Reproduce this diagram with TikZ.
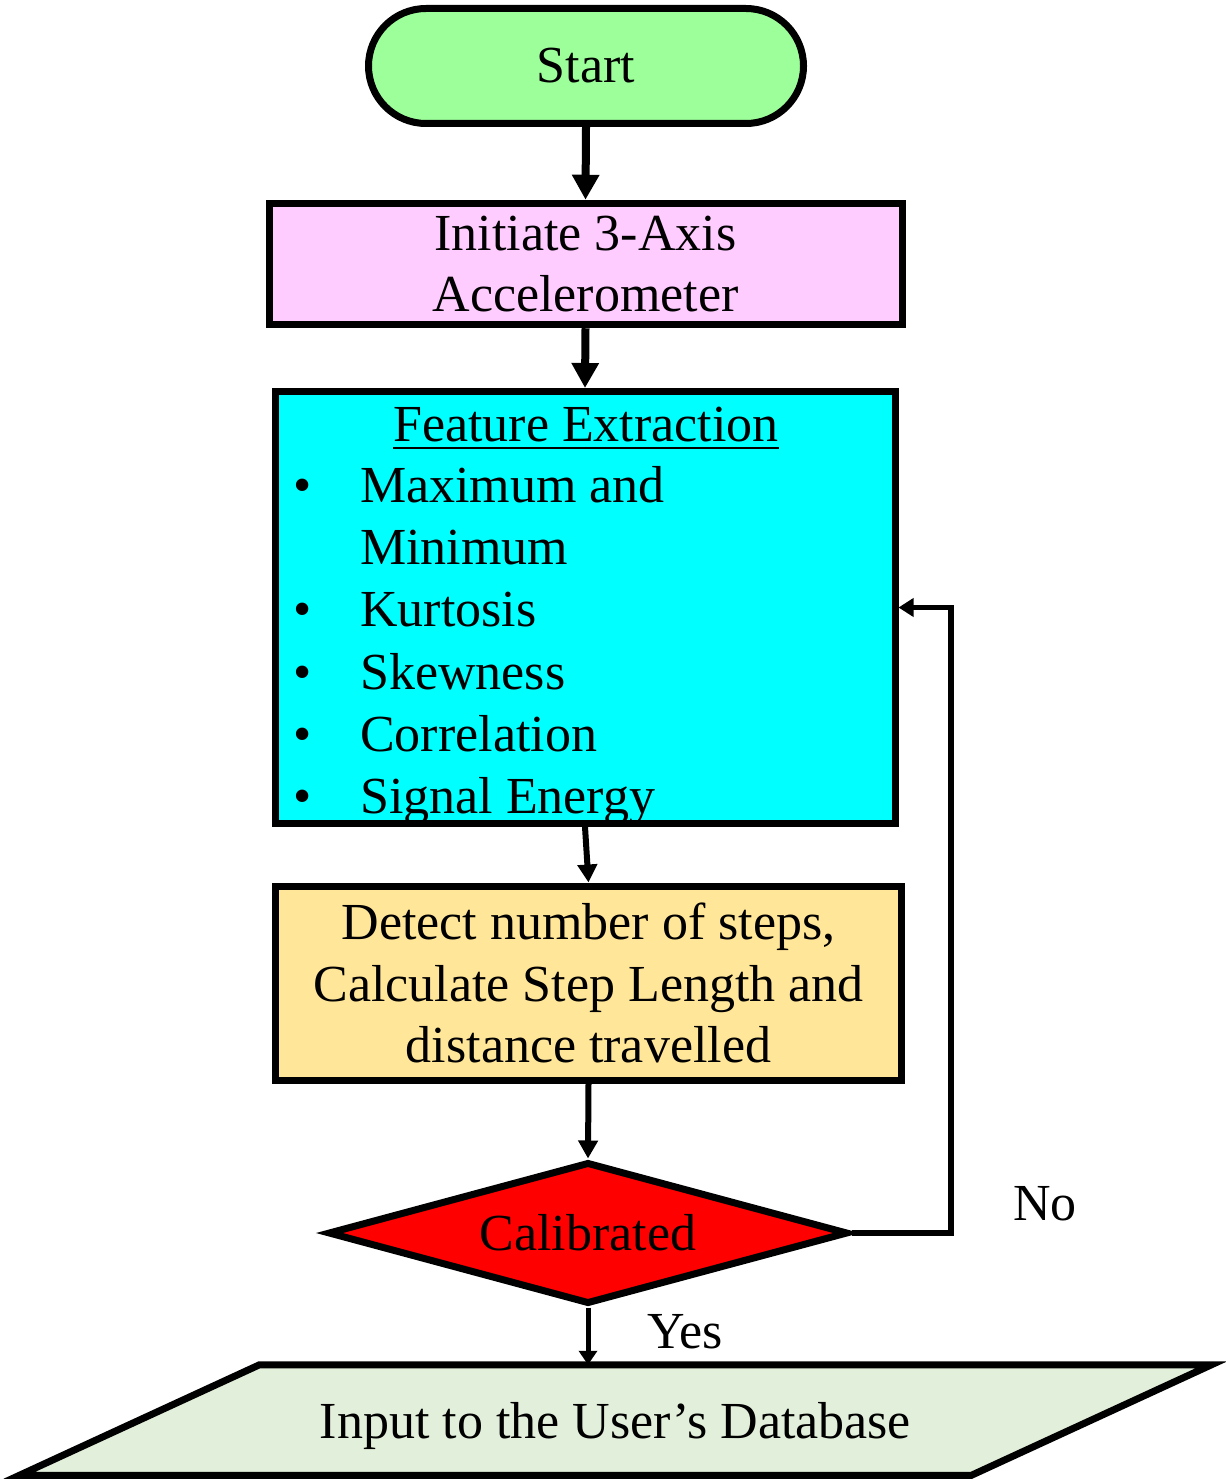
\documentclass[tikz,border=0pt]{standalone}
\usepackage{fontspec}
\setmainfont{Liberation Serif}
\usetikzlibrary{arrows.meta,shapes.geometric,backgrounds}

\definecolor{startgreen}{HTML}{9CFF9A}
\definecolor{initpink}{HTML}{FFCCFF}
\definecolor{featcyan}{HTML}{00FFFF}
\definecolor{detyellow}{HTML}{FFE699}
\definecolor{decred}{HTML}{FF0000}
\definecolor{dbgreen}{HTML}{E2EFDA}

% underlined heading: text with a rule set a little below the baseline
\newcommand{\headul}[1]{\setbox0\hbox{#1}\dimen0=\wd0\rlap{\box0}\rule[-8pt]{\dimen0}{2.5pt}}

\begin{document}
\begin{tikzpicture}[x=1pt,y=-1pt,
  every node/.style={font=\fontsize{52}{61.6}\selectfont, inner sep=0pt},
  box/.style={draw, line width=7pt, rectangle},
  mainarrow/.style={line width=8pt, -{Triangle[length=25pt,width=26pt]}},
  thinarrow/.style={line width=6pt, -{Triangle[length=18pt,width=19pt]}},
  lbl/.style={anchor=base},
  item/.style={anchor=base west},
  bulletmark/.style={anchor=base}]

\useasboundingbox (0,0) rectangle (1225,1479);

% process blocks
\node[box, fill=startgreen, rounded corners=57.5pt,
      minimum width=435pt, minimum height=115pt] (start) at (586,66) {Start};

\node[box, fill=initpink, minimum width=633pt, minimum height=121.5pt,
      align=center] (init) at (585.5,264) {Initiate 3-Axis\\Accelerometer};

\node[box, fill=featcyan, minimum width=620pt, minimum height=432pt] (feat) at (585,607.5) {};
\node[lbl] (fhead) at (586,441) {\headul{Feature Extraction}};
\node[bulletmark] (b1) at (303,502) {•};
\node[item] (t1) at (360,502) {Maximum and};
\node[item] (t1b) at (360,564) {Minimum};
\node[bulletmark] (b2) at (303,626.5) {•};
\node[item] (t2) at (360,626.5) {Kurtosis};
\node[bulletmark] (b3) at (303,689) {•};
\node[item] (t3) at (360,689) {Skewness};
\node[bulletmark] (b4) at (303,751) {•};
\node[item] (t4) at (360,751) {Correlation};
\node[bulletmark] (b5) at (303,813.5) {•};
\node[item] (t5) at (360,813.5) {Signal Energy};

\node[box, fill=detyellow, minimum width=626pt, minimum height=194pt,
      align=center] (det) at (588.5,983)
      {Detect number of steps,\\Calculate Step Length and\\distance travelled};

\node[draw, line width=7pt, diamond, fill=decred, aspect=3.64,
      minimum width=520pt, minimum height=142pt] (dec) at (588,1233) {Calibrated};

\node[minimum width=712pt, minimum height=110.5pt, outer sep=0pt,
      text depth=0pt] (db) at (615.5,1420) {Input to the User’s Database};
\begin{scope}[on background layer]
  \draw[line width=7pt, fill=dbgreen] (db.north west) -- ([xshift=240pt]db.north east)
    -- (db.south east) -- ([xshift=-240pt]db.south west) -- cycle;
\end{scope}

% connectors
\draw[mainarrow] (start.south) -- (init.north);
\draw[mainarrow] (init.south) -- (feat.north);
\draw[thinarrow] (feat.south) -- (det.north);
\draw[thinarrow] (det.south) -- (dec.north);
\draw[line width=5pt, -{Triangle[length=14pt,width=18pt]}] (dec.south) -- (dec.south |- db.north);
\coordinate (loopx) at (951,1233);
\draw[line width=5.5pt, -{Triangle[length=15pt,width=18pt]}]
  (dec.east) -- (dec.east -| loopx) |- (feat.east);

% branch labels
\node[lbl] (no) at (1045,1220) {No};
\node[lbl] (yes) at (685,1348) {Yes};
\end{tikzpicture}
\end{document}
